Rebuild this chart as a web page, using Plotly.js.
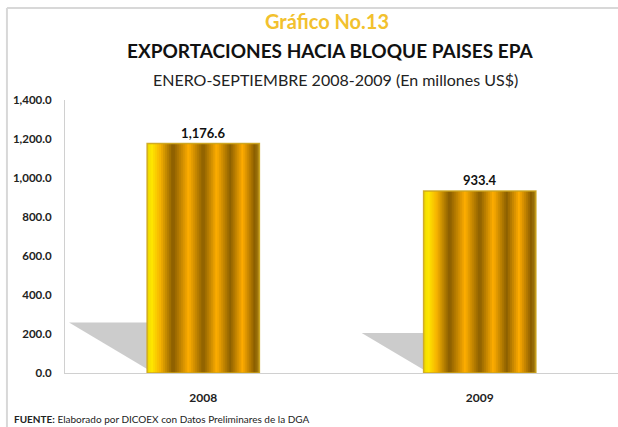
<!DOCTYPE html>
<html>
<head>
<meta charset="utf-8">
<script src="https://cdn.plot.ly/plotly-3.0.1.min.js"></script>
<style>
  html, body { margin: 0; padding: 0; background: #ffffff; }
  #chart { width: 618px; height: 427px; }
</style>
</head>
<body>
<div id="chart"></div>
<script>
// ---- data ----
const categories = ["2008", "2009"];
const values = [1176.6, 933.4];
const yTickValues = [0, 200, 400, 600, 800, 1000, 1200, 1400];
const titleLine1 = "Gráfico No.13";
const titleLine2 = "EXPORTACIONES HACIA BLOQUE PAISES EPA";
const titleLine3 = "ENERO-SEPTIEMBRE 2008-2009 (En millones US$)";
const sourceNote = "<b>FUENTE:</b> Elaborado por DICOEX con Datos Preliminares de la DGA";

// ---- style ----
const FONT = "Lato, 'Open Sans', sans-serif";
const BAR_W = 0.406;
const N_STRIPES = 56;
const stripeStops = [
  [0.00, [235, 215, 0]],
  [0.04, [255, 232, 0]],
  [0.12, [245, 176, 0]],
  [0.23, [135, 92, 0]],
  [0.37, [255, 174, 0]],
  [0.50, [138, 95, 0]],
  [0.62, [255, 174, 0]],
  [0.74, [140, 96, 0]],
  [0.85, [255, 172, 0]],
  [0.96, [135, 92, 0]],
  [1.00, [175, 135, 20]]
];
function stripeColor(f) {
  for (let i = 1; i < stripeStops.length; i++) {
    if (f <= stripeStops[i][0]) {
      const [f0, c0] = stripeStops[i - 1];
      const [f1, c1] = stripeStops[i];
      const t = (f - f0) / (f1 - f0);
      const c = c0.map((v, k) => Math.round(v + (c1[k] - v) * t));
      return `rgb(${c[0]},${c[1]},${c[2]})`;
    }
  }
  const c = stripeStops[stripeStops.length - 1][1];
  return `rgb(${c[0]},${c[1]},${c[2]})`;
}

const traces = [];
const sw = BAR_W / N_STRIPES;
for (let i = 0; i < N_STRIPES; i++) {
  const f = (i + 0.5) / N_STRIPES;
  const last = i === N_STRIPES - 1;
  traces.push({
    type: "bar",
    x: categories,
    y: values,
    width: last ? sw : sw * 2,
    offset: -BAR_W / 2 + i * sw,
    marker: { color: stripeColor(f), line: { width: 0 } },
    hoverinfo: "skip",
    showlegend: false
  });
}
// outline + value labels
traces.push({
  type: "bar",
  x: categories,
  y: values,
  width: BAR_W,
  marker: { color: "rgba(0,0,0,0)", line: { color: "rgba(205,165,30,0.9)", width: 1.5 } },
  text: values.map(v => v.toLocaleString("en-US", { minimumFractionDigits: 1, maximumFractionDigits: 1 })),
  textposition: "outside",
  cliponaxis: false,
  textfont: { family: FONT, size: 13, color: "#111111", weight: "bold" },
  hoverinfo: "skip",
  showlegend: false
});

// shadows (derived from the data)
const SHADOW_H = 0.22;        // fraction of bar value
const SHADOW_W = 0.24 / 1000; // x units per value unit
const shapes = values.map((v, i) => {
  const xr = i - BAR_W / 2;
  const xl = xr - SHADOW_W * v;
  const yt = SHADOW_H * v;
  return {
    type: "path",
    xref: "x", yref: "y",
    path: `M ${xl} ${yt} L ${xr} ${yt} L ${xr} ${yt * 0.08} Z`,
    fillcolor: "rgba(195,195,195,0.85)",
    line: { width: 0 },
    layer: "below"
  };
});
// frame lines
shapes.push({ type: "line", xref: "paper", yref: "paper", x0: -0.105, x1: -0.105, y0: -0.2, y1: 1.337, line: { color: "#D8D8D8", width: 2 } });
shapes.push({ type: "line", xref: "paper", yref: "paper", x0: -0.105, x1: 1.02, y0: 1.337, y1: 1.337, line: { color: "#D8D8D8", width: 2 } });

const layout = {
  width: 618,
  height: 427,
  margin: { l: 65, r: 0, t: 100, b: 54 },
  paper_bgcolor: "#ffffff",
  plot_bgcolor: "#ffffff",
  barmode: "overlay",
  showlegend: false,
  font: { family: FONT, color: "#222222" },
  xaxis: {
    type: "category",
    range: [-0.5, 1.5],
    showline: true,
    linecolor: "#D0D0D0",
    linewidth: 1,
    ticks: "",
    ticklabelstandoff: 14,
    tickfont: { family: FONT, size: 12, color: "#222222", weight: "bold" },
    showgrid: false,
    zeroline: false,
    fixedrange: true
  },
  yaxis: {
    range: [0, 1400],
    tickvals: yTickValues,
    tickformat: ",.1f",
    showline: true,
    linecolor: "#D0D0D0",
    linewidth: 1,
    ticks: "",
    ticklabelstandoff: 10,
    tickfont: { family: FONT, size: 11.5, color: "#222222", weight: "bold" },
    showgrid: false,
    zeroline: false,
    fixedrange: true
  },
  shapes: shapes,
  annotations: [
    { text: "<b>" + titleLine1 + "</b>", xref: "paper", yref: "paper", x: 0.473, y: (373 - 21) / 273, xanchor: "center", yanchor: "middle", showarrow: false, font: { family: FONT, size: 20, color: "#F2C12E" } },
    { text: "<b>" + titleLine2 + "</b>", xref: "paper", yref: "paper", x: 0.479, y: (373 - 51) / 273, xanchor: "center", yanchor: "middle", showarrow: false, font: { family: FONT, size: 19, color: "#111111" } },
    { text: titleLine3, xref: "paper", yref: "paper", x: 0.49, y: (373 - 79) / 273, xanchor: "center", yanchor: "middle", showarrow: false, font: { family: FONT, size: 16, color: "#222222" } },
    { text: sourceNote, xref: "paper", yref: "paper", x: (12 - 65) / 553, y: (373 - 419) / 273, xanchor: "left", yanchor: "middle", showarrow: false, font: { family: FONT, size: 10, color: "#222222" } }
  ]
};

Plotly.newPlot("chart", traces, layout, { displayModeBar: false, staticPlot: true });
</script>
</body>
</html>
